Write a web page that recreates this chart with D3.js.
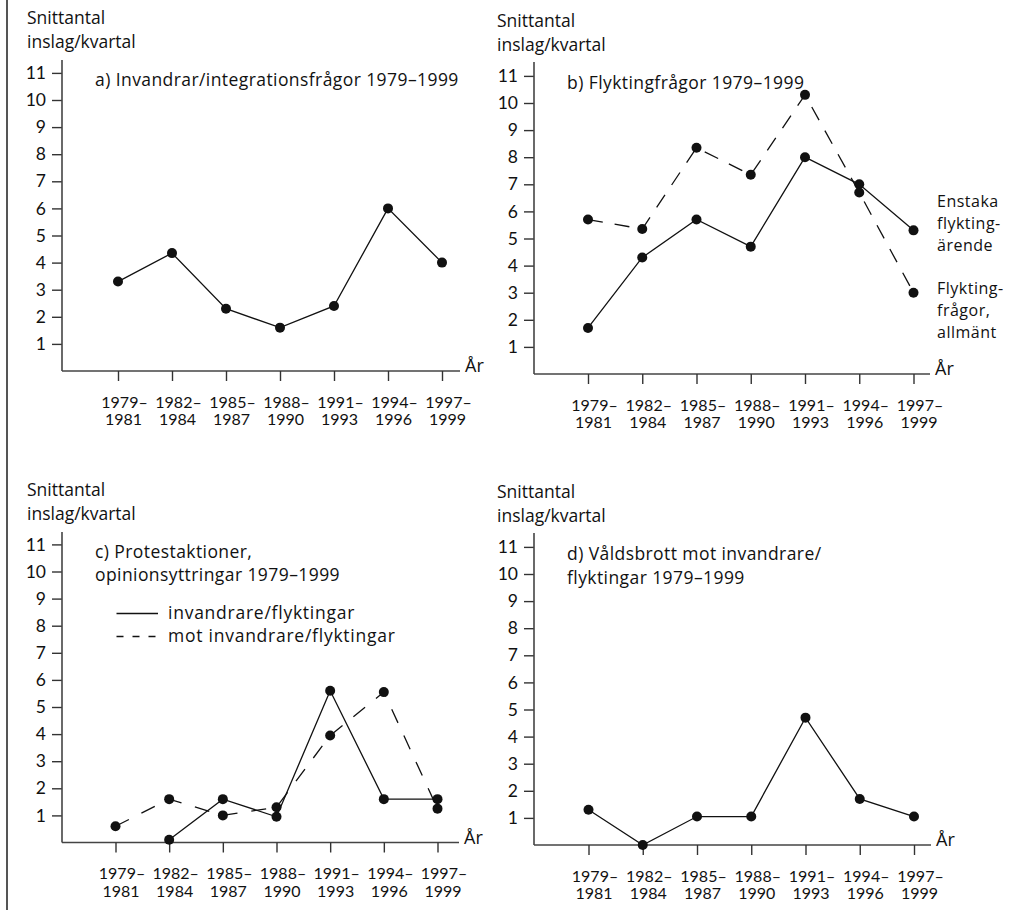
<!DOCTYPE html>
<html>
<head>
<meta charset="utf-8">
<script src="https://cdn.jsdelivr.net/npm/d3@7"></script>
<style>
  html, body { margin: 0; padding: 0; background: #fff; }
  svg text { font-family: "Open Sans", Lato, sans-serif; fill: #111; }
  svg text.num { font-family: Lato, "Open Sans", sans-serif; }
</style>
</head>
<body>
<svg id="chart" width="1011" height="914"></svg>
<script>
// ---------- data ----------
const periods = ["1979–1981", "1982–1984", "1985–1987", "1988–1990", "1991–1993", "1994–1996", "1997–1999"];
const periodStart = ["1979–", "1982–", "1985–", "1988–", "1991–", "1994–", "1997–"];
const periodEnd = ["1981", "1984", "1987", "1990", "1993", "1996", "1999"];
const yTicks = [1, 2, 3, 4, 5, 6, 7, 8, 9, 10, 11];

const invandrarIntegration = [3.3, 4.35, 2.3, 1.6, 2.4, 6.0, 4.0];
const enstakaFlyktingarende = [1.7, 4.3, 5.7, 4.7, 8.0, 7.0, 5.3];
const flyktingfragorAllmant = [5.7, 5.35, 8.35, 7.35, 10.3, 6.7, 3.0];
const protestFor = [null, 0.1, 1.6, 0.95, 5.6, 1.6, 1.6];
const protestMot = [0.6, 1.6, 1.0, 1.3, 3.95, 5.55, 1.25];
const valdsbrott = [1.3, 0.0, 1.05, 1.05, 4.7, 1.7, 1.05];

const yLabelLines = ["Snittantal", "inslag/kvartal"];
const xAxisLabel = "År";

// ---------- layout ----------
const svg = d3.select("#chart");
const UNIT = 27.1;

// left border line
svg.append("line").attr("x1", 7).attr("x2", 7).attr("y1", 0).attr("y2", 910)
  .attr("stroke", "#555").attr("stroke-width", 2);

const panels = [
  { ax: 62, y0: 371, yTop: 60, xEnd: 460, x1: 118, x2: 442, labelX: 27,
    title: ["a) Invandrar/integrationsfrågor 1979–1999"],
    series: [{ values: invandrarIntegration, dash: null }] },
  { ax: 534, y0: 374, yTop: 62, xEnd: 930, x1: 588, x2: 913.5, labelX: 497,
    title: ["b) Flyktingfrågor 1979–1999"],
    series: [{ values: enstakaFlyktingarende, dash: null },
             { values: flyktingfragorAllmant, dash: "15,12" }],
    sideLabels: [
      { lines: ["Enstaka", "flykting-", "ärende"], y: 207 },
      { lines: ["Flykting-", "frågor,", "allmänt"], y: 294 } ] },
  { ax: 62, y0: 842.5, yTop: 532, xEnd: 459, x1: 115.5, x2: 437.5, labelX: 27,
    title: ["c) Protestaktioner,", "opinionsyttringar 1979–1999"],
    series: [{ values: protestFor, dash: null },
             { values: protestMot, dash: "15,14" }],
    legend: [
      { text: "invandrare/flyktingar", dash: null, y: 613.5 },
      { text: "mot invandrare/flyktingar", dash: "7,9", y: 636.5 } ] },
  { ax: 534, y0: 845, yTop: 533, xEnd: 931, x1: 588.5, x2: 914, labelX: 497,
    title: ["d) Våldsbrott mot invandrare/", "flyktingar 1979–1999"],
    series: [{ values: valdsbrott, dash: null }] }
];

panels.forEach(p => {
  const g = svg.append("g");
  const y = d3.scaleLinear().domain([0, 11]).range([p.y0, p.y0 - 11 * UNIT]);
  const x = d3.scalePoint().domain(periods).range([p.x1, p.x2]);

  // y axis label
  yLabelLines.forEach((t, i) => {
    g.append("text").attr("x", p.labelX).attr("y", p.y0 - 347 + i * 24)
      .attr("font-size", 17.5).text(t);
  });

  // y axis
  const yAxis = d3.axisLeft(y).tickValues(yTicks).tickSize(10).tickPadding(6).tickFormat(d3.format("d"));
  const ya = g.append("g").attr("transform", `translate(${p.ax},0)`).call(yAxis);
  ya.select(".domain").remove();
  ya.selectAll(".tick line").attr("stroke", "#333").attr("stroke-width", 1.4);
  ya.selectAll(".tick text").attr("class", "num").attr("font-size", 17.5).attr("fill", "#111");
  g.append("line").attr("x1", p.ax).attr("x2", p.ax).attr("y1", p.yTop).attr("y2", p.y0)
    .attr("stroke", "#444").attr("stroke-width", 1.6);

  // x axis
  g.append("line").attr("x1", p.ax).attr("x2", p.xEnd).attr("y1", p.y0).attr("y2", p.y0)
    .attr("stroke", "#444").attr("stroke-width", 1.6);
  const xAxis = d3.axisBottom(x).tickSize(10).tickFormat(() => "");
  const xa = g.append("g").attr("transform", `translate(0,${p.y0})`).call(xAxis);
  xa.select(".domain").remove();
  xa.selectAll(".tick line").attr("stroke", "#333").attr("stroke-width", 1.4);
  periods.forEach((per, i) => {
    const t = g.append("text").attr("class", "num").attr("text-anchor", "middle").attr("font-size", 16);
    t.append("tspan").attr("x", x(per) + 6.5).attr("y", p.y0 + 36.5).text(periodStart[i]);
    t.append("tspan").attr("x", x(per) + 5.5).attr("y", p.y0 + 54).text(periodEnd[i]);
  });
  g.append("text").attr("x", p.xEnd + 5).attr("y", p.y0 + 1).attr("font-size", 18).text(xAxisLabel);

  // title
  p.title.forEach((t, i) => {
    g.append("text").attr("x", p.ax + 33).attr("y", p.y0 - 285 + i * 23.5)
      .attr("font-size", 17.5).attr("letter-spacing", 0.42).text(t);
  });

  // series
  p.series.forEach(s => {
    const pts = periods.map((per, i) => ({ per, v: s.values[i] })).filter(d => d.v !== null);
    const line = d3.line().x(d => x(d.per)).y(d => y(d.v));
    g.append("path").datum(pts).attr("d", line).attr("fill", "none")
      .attr("stroke", "#111").attr("stroke-width", 1.3)
      .attr("stroke-dasharray", s.dash);
    g.selectAll(null).data(pts).enter().append("circle")
      .attr("cx", d => x(d.per)).attr("cy", d => y(d.v)).attr("r", 5).attr("fill", "#111");
  });

  // side labels
  (p.sideLabels || []).forEach(sl => {
    sl.lines.forEach((t, i) => {
      g.append("text").attr("x", 937).attr("y", sl.y + i * 22).attr("font-size", 16)
        .attr("letter-spacing", 0.5).text(t);
    });
  });

  // legend
  (p.legend || []).forEach(l => {
    g.append("line").attr("x1", 116.5).attr("x2", 158).attr("y1", l.y).attr("y2", l.y)
      .attr("stroke", "#111").attr("stroke-width", 1.3).attr("stroke-dasharray", l.dash);
    g.append("text").attr("x", 168).attr("y", l.y + 5.5).attr("font-size", 17.5)
      .attr("letter-spacing", 0.75).text(l.text);
  });
});
</script>
</body>
</html>
